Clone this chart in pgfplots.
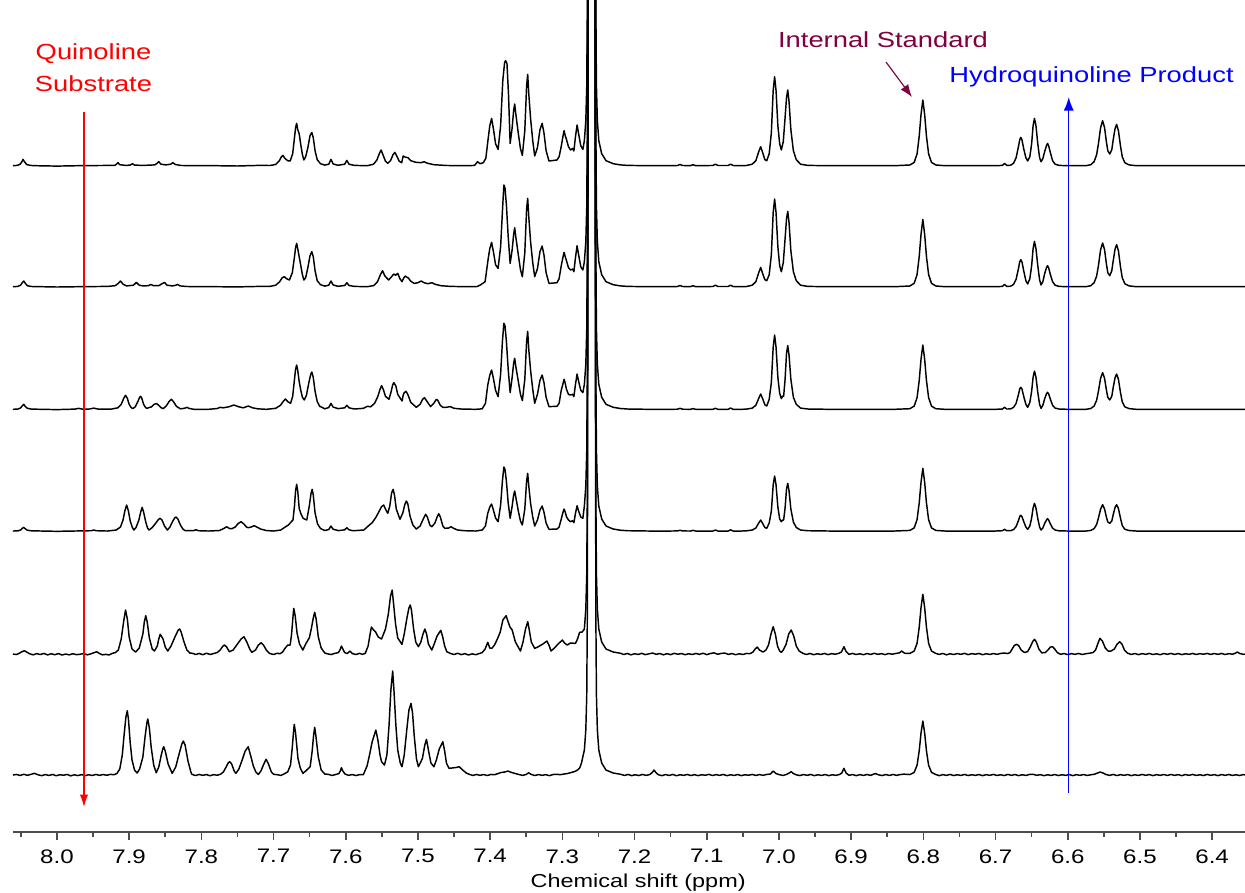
\documentclass[border=0pt]{standalone}
\usepackage{fontspec}
\setmainfont{Liberation Sans}
\usepackage{pgfplots}
\pgfplotsset{compat=1.18}
\usetikzlibrary{arrows.meta}
\definecolor{ismaroon}{RGB}{128,0,64}
\definecolor{annred}{RGB}{255,0,0}
\definecolor{annblue}{RGB}{0,0,255}
\begin{document}
\begin{tikzpicture}
\begin{axis}[
  scale only axis, width=591.36pt, height=399.36pt,
  xmin=6.3545, xmax=8.061, x dir=reverse,
  ymin=0, ymax=832,
  axis x line*=bottom, axis y line=none,
  xtick={6.4,6.5,6.6,6.7,6.8,6.9,7.0,7.1,7.2,7.3,7.4,7.5,7.6,7.7,7.8,7.9,8.0},
  minor xtick={6.45,6.55,6.65,6.75,6.85,6.95,7.05,7.15,7.25,7.35,7.45,7.55,7.65,7.75,7.85,7.95,8.05},
  tick align=outside,
  major tick length=3.84pt, minor tick length=2.4pt,
  tick style={black!70, line width=0.8pt},
  axis line style={black!70, line width=0.9pt},
  /pgf/number format/fixed, /pgf/number format/fixed zerofill,
  /pgf/number format/precision=1, /pgf/number format/assume math mode=true,
  xticklabel style={font=\fontsize{9.4}{11}\selectfont, xscale=1.23, yshift=-1pt},
  clip=true, no markers,
  every axis plot/.append style={black, line width=0.7pt, line join=round},
]
% ---------------- Trace 1 (top) ----------------
\addplot[y filter/.expression={y+666.3}] coordinates {
(8.061,0)(8.055,0.3)(8.051,1.5)(8.0485,4)(8.047,6.3)(8.045,4)(8.042,1.2)(8.037,0.3)(8.03,0)(8.00,-0.4)(7.97,0)(7.94,0.2)(7.92,0.3)(7.918,1.2)(7.9155,3)(7.913,1)(7.905,0.3)(7.8985,0.6)(7.8955,2)(7.8925,0.6)(7.88,0.3)(7.8645,0.8)(7.862,2)(7.859,4)(7.856,1.5)(7.849,0.8)(7.8425,1.5)(7.8395,3)(7.836,1.2)(7.828,0.2)(7.80,0)(7.78,0)(7.75,-0.3)(7.72,0.3)(7.705,0.2)
(7.697,1.2)(7.692,5)(7.689,9)(7.687,10.3)(7.6845,7.5)(7.6805,5)(7.677,4.7)(7.6735,12)(7.671,28)(7.6695,38)(7.668,42.3)(7.6665,36)(7.6645,32)(7.6625,22)(7.66,11)(7.658,5.7)(7.6555,9)(7.6525,18)(7.6495,30)(7.647,33.3)(7.645,28)(7.6425,15)(7.6395,6)(7.635,2)(7.629,0.6)(7.6235,1.5)(7.6205,6.3)(7.6175,1.8)(7.611,0.4)(7.6015,1.5)(7.5985,5.3)(7.5955,1.5)(7.588,0.3)(7.57,0)
(7.5615,1.5)(7.557,5.5)(7.5535,12)(7.551,15.7)(7.5485,11)(7.545,4.5)(7.5418,2.3)(7.538,5)(7.5345,11)(7.532,13.3)(7.5295,10)(7.526,4.5)(7.5225,3)(7.5205,9.7)(7.5175,8.5)(7.5137,8)(7.510,5)(7.5035,3.5)(7.496,3)(7.4915,4)(7.487,2.5)(7.478,1)(7.46,0.2)(7.43,0)(7.4215,0.3)(7.4175,4)(7.414,2)(7.4095,3)
(7.406,7.3)(7.4027,27.3)(7.4005,40)(7.398,47.3)(7.3955,37)(7.3925,22)(7.389,16.3)(7.3855,40)(7.3825,85)(7.380,103)(7.3787,105)(7.3767,102.3)(7.3745,70)(7.3723,22.3)(7.3695,38)(7.3675,55)(7.366,61.7)(7.3645,52)(7.361,32.3)(7.358,17)(7.3554,10.3)(7.352,35)(7.3495,80)(7.348,91.3)(7.3465,72)(7.344,47.3)(7.341,25)(7.3383,9.7)(7.3345,18)(7.331,36)(7.328,42.3)(7.3255,33)(7.3225,15)(7.3185,4.7)(7.3074,5.7)(7.3045,9)(7.3016,19)(7.299,30)(7.2976,35)(7.296,30)(7.2943,26.3)(7.2915,19)(7.2886,15.7)(7.2857,17.3)(7.284,14.7)(7.282,28)(7.2796,40.7)(7.2775,32)(7.2745,20)(7.2716,16.3)
(7.2695,25)(7.2675,45)(7.2662,80)(7.2655,150)(7.2650,300)(7.2644,600)(7.2638,1200)(7.2552,1200)(7.2546,600)(7.2540,300)(7.2535,150)(7.2528,80)(7.2515,45)(7.2495,25)(7.2455,12)(7.2395,5)(7.2295,2)(7.2195,0.8)
(7.2095,0.3)(7.18,0)(7.15,0)(7.1405,0.2)(7.137,1.2)(7.1335,0.2)(7.1225,0.1)(7.119,1)(7.1155,0.1)(7.0915,0.2)(7.088,1.5)(7.0845,0.2)(7.0705,0.2)(7.067,1.5)(7.0635,0.2)(7.052,0)
(7.045,0.2)(7.037,1.5)(7.032,5)(7.028,14)(7.0253,19)(7.0225,13)(7.0195,6)(7.0169,5)(7.0135,12)(7.0105,33)(7.008,75)(7.006,89)(7.004,75)(7.0015,40)(6.999,22)(6.9967,15.7)(6.994,24)(6.9915,48)(6.9895,68)(6.9878,75.7)(6.986,64)(6.9835,36)(6.980,15)(6.976,6)(6.970,1.5)(6.960,0.3)(6.93,0)(6.88,0)(6.84,0)
(6.8187,0.7)(6.8127,3.3)(6.8087,11.8)(6.8057,29.6)(6.8032,51.2)(6.8007,65.7)(6.7982,51.2)(6.7957,29.6)(6.7927,11.8)(6.7887,3.3)(6.7827,0.7)(6.77,0)(6.72,0)
(6.700,0)(6.6905,0.3)(6.6875,2.3)(6.6845,0.3)(6.679,0.5)(6.675,2.5)(6.6715,8)(6.668,20)(6.6665,26)(6.665,28.3)(6.6635,26)(6.661,17)(6.658,8)(6.6555,4.7)(6.6525,9)(6.650,22)(6.648,40)(6.6461,47.3)(6.644,40)(6.6415,22)(6.639,8)(6.637,4)(6.6345,7)(6.632,14)(6.6295,20)(6.628,22.3)(6.6265,20)(6.624,13)(6.621,5)(6.6175,1.5)(6.612,0.3)(6.600,0)(6.59,0)
(6.575,0)(6.568,1)(6.5635,4)(6.560,11)(6.5575,22)(6.5545,38)(6.5517,45)(6.549,38)(6.5465,24)(6.5445,15)(6.5418,11.7)(6.539,16)(6.537,26)(6.5345,37)(6.5323,41.3)(6.5298,35)(6.527,20)(6.5245,9)(6.521,3)(6.515,0.8)(6.505,0)(6.48,0)(6.44,0)(6.40,0)(6.3545,0)
};
% ---------------- Trace 2 ----------------
\addplot[y filter/.expression={y+545.3}] coordinates {
(8.061,0)(8.054,0.3)(8.0505,1.5)(8.048,4)(8.046,5.7)(8.044,3.5)(8.041,1)(8.035,0.2)(8.00,-0.3)(7.97,0)(7.93,0.3)(7.9195,1)(7.9155,3)(7.912,5.7)(7.9085,2.5)(7.9035,0.8)(7.894,1.5)(7.890,4.3)(7.886,1.5)(7.8805,0.8)(7.8735,1)(7.870,2.3)(7.8665,1)(7.8585,1.2)(7.8545,3)(7.851,4.3)(7.8475,1.5)(7.8405,0.8)(7.8365,1.2)(7.833,2.3)(7.8295,0.8)(7.82,0.2)(7.78,0)(7.75,-0.2)(7.72,0.3)(7.705,0.3)
(7.697,1.5)(7.6915,5)(7.688,9)(7.685,10)(7.682,8)(7.678,6.7)(7.674,14)(7.671,30)(7.6695,39)(7.668,43.3)(7.6665,38)(7.6645,30)(7.6625,22)(7.660,12)(7.658,6.7)(7.6555,9)(7.6525,19)(7.6495,31)(7.647,35)(7.645,30)(7.6425,16)(7.6395,6)(7.635,2)(7.629,0.6)(7.6235,1.5)(7.6205,5.7)(7.6175,1.8)(7.611,0.4)(7.6015,1.2)(7.5985,4)(7.5955,1.2)(7.588,0.3)(7.57,0)
(7.561,1.2)(7.556,5)(7.552,12)(7.549,16)(7.546,11)(7.5407,6.7)(7.5365,10)(7.5335,12.7)(7.531,11.5)(7.528,13.3)(7.525,8)(7.5221,5)(7.5195,9)(7.5175,10.7)(7.5155,9.5)(7.5137,9)(7.510,5.5)(7.5051,3.3)(7.500,4)(7.4955,5.7)(7.4915,4)(7.4865,3)(7.4805,4)(7.4765,2.5)(7.468,1)(7.455,0.3)(7.43,0)(7.418,0.2)(7.413,2)
(7.407,5)(7.4027,28)(7.4005,38)(7.398,44.3)(7.3955,35)(7.3925,22)(7.389,18.3)(7.3855,40)(7.3825,82)(7.381,101.7)(7.3795,99)(7.3775,82)(7.375,50)(7.3723,23.3)(7.3695,37)(7.3675,52)(7.366,59)(7.3645,50)(7.361,32)(7.358,17)(7.3554,10)(7.352,34)(7.3495,78)(7.348,88.3)(7.3465,70)(7.344,45)(7.341,24)(7.3383,10)(7.3345,18)(7.331,35)(7.328,40.7)(7.3255,32)(7.3225,14)(7.3185,3.3)(7.3074,4)(7.3045,8)(7.3016,20.7)(7.299,30)(7.2976,34.3)(7.296,30)(7.2943,26)(7.2915,19)(7.2886,16.7)(7.2857,17.7)(7.284,15)(7.282,28)(7.2796,41)(7.2775,32)(7.2745,20)(7.2716,16.7)
(7.2695,25)(7.2675,45)(7.2662,80)(7.2655,150)(7.2650,300)(7.2644,600)(7.2638,1200)(7.2552,1200)(7.2546,600)(7.2540,300)(7.2535,150)(7.2528,80)(7.2515,45)(7.2495,25)(7.2455,12)(7.2395,5)(7.2295,2)(7.2195,0.8)
(7.2095,0.3)(7.18,0)(7.15,0)(7.1405,0.2)(7.137,1.2)(7.1335,0.2)(7.1225,0.1)(7.119,1)(7.1155,0.1)(7.0915,0.2)(7.088,1.5)(7.0845,0.2)(7.0705,0.2)(7.067,1.5)(7.0635,0.2)(7.052,0)
(7.045,0.2)(7.037,1.5)(7.032,5)(7.028,14)(7.0253,19.3)(7.0225,13)(7.0195,7)(7.0169,6)(7.0135,12)(7.0105,32)(7.008,74)(7.006,87.7)(7.004,74)(7.0015,40)(6.999,21)(6.9967,15)(6.994,24)(6.9915,48)(6.9895,68)(6.9878,75.3)(6.986,64)(6.9835,36)(6.980,15)(6.976,6)(6.970,1.5)(6.960,0.3)(6.93,0)(6.88,0)(6.84,0)
(6.8187,0.7)(6.8127,3.4)(6.8087,12.1)(6.8057,30.3)(6.8032,52.5)(6.8007,67.3)(6.7982,52.5)(6.7957,30.3)(6.7927,12.1)(6.7887,3.4)(6.7827,0.7)(6.77,0)(6.72,0)
(6.700,0)(6.6905,0.3)(6.6875,2.3)(6.6845,0.3)(6.679,0.5)(6.675,2.3)(6.6715,7.5)(6.668,19)(6.6665,25)(6.665,27)(6.6635,25)(6.661,16)(6.658,6)(6.6555,2.7)(6.6525,8)(6.650,21)(6.648,38)(6.6461,45.3)(6.644,38)(6.6415,21)(6.639,7)(6.637,1.7)(6.6345,5)(6.632,13)(6.6295,19)(6.628,21)(6.6265,19)(6.624,12)(6.621,5)(6.6175,1.5)(6.612,0.3)(6.600,0)(6.59,0)
(6.575,0)(6.568,1)(6.5635,4)(6.560,10.5)(6.5575,21)(6.5545,37)(6.5517,43.7)(6.549,37)(6.5465,23)(6.5445,14)(6.5418,11)(6.539,16)(6.537,26)(6.5345,37.5)(6.5323,42)(6.5298,36)(6.527,20)(6.5245,9)(6.521,3)(6.515,0.8)(6.505,0)(6.48,0)(6.44,0)(6.40,0)(6.3545,0)
};
% ---------------- Trace 3 ----------------
\addplot[y filter/.expression={y+422.7}] coordinates {
(8.061,0)(8.054,0.3)(8.0505,1.3)(8.048,3.5)(8.046,5)(8.044,3)(8.041,1)(8.035,0.2)(8.00,-0.3)(7.975,0.2)(7.97,1)(7.965,0.2)(7.955,0.3)(7.949,1.2)(7.943,0.2)(7.925,0.2)
(7.9155,1.5)(7.911,5)(7.9075,11)(7.905,14)(7.9025,11)(7.9,5)(7.8975,2)(7.895,0.7)(7.8915,2.5)(7.8875,8.5)(7.8855,12)(7.884,13)(7.8825,11)(7.880,5)(7.8775,2)(7.8755,1)(7.869,2.5)(7.8655,5)(7.862,5.7)(7.859,4)(7.8555,1.5)(7.8527,0.7)(7.8485,3.5)(7.8445,8)(7.8415,10)(7.8385,7.5)(7.8345,3)(7.829,0.5)(7.8235,1)(7.820,2)(7.8165,0.8)(7.81,0)(7.79,0)(7.778,0.8)(7.774,2)(7.770,1.5)(7.762,2.5)(7.755,4.3)(7.748,2.5)(7.742,1.5)(7.735,3.3)(7.729,1.5)(7.722,0.5)(7.71,0)
(7.697,1)(7.6905,4)(7.6865,8)(7.6835,10.3)(7.680,7.5)(7.6764,6)(7.6735,13)(7.671,30)(7.6695,40)(7.668,44.3)(7.6665,39)(7.6645,27.7)(7.662,18)(7.660,12)(7.6575,9.3)(7.6545,14)(7.651,27)(7.6485,35)(7.647,37.3)(7.645,32)(7.6425,18)(7.6395,7.7)(7.636,3)(7.629,0.5)(7.6235,1.8)(7.6205,6)(7.6175,2.2)(7.6105,0.7)(7.6015,1.5)(7.5985,4)(7.5955,1.5)(7.588,0.3)
(7.5755,1)(7.570,3)(7.5655,2.5)(7.560,6)(7.5555,13)(7.5525,20)(7.5504,23.7)(7.548,20)(7.545,13)(7.5401,10)(7.537,18)(7.535,24.5)(7.5335,26.7)(7.5306,23.3)(7.528,15)(7.522,8.3)(7.5205,14)(7.519,16.7)(7.5165,18)(7.5135,14)(7.510,7)(7.5023,2)(7.497,5)(7.4935,10)(7.491,11.7)(7.4885,9)(7.4825,2.7)(7.478,6)(7.4755,9)(7.474,10)(7.4725,9)(7.469,4)(7.4655,2)(7.461,2)(7.4553,2.7)(7.450,1)(7.44,0.3)(7.42,0)
(7.411,0.5)(7.4065,6)(7.4033,24.3)(7.4005,34)(7.398,39.3)(7.3955,31)(7.3925,19)(7.389,12.7)(7.3855,35)(7.383,68)(7.381,86)(7.3795,84)(7.3775,68)(7.375,40)(7.3723,16.7)(7.3695,32)(7.3675,46)(7.366,51)(7.3645,43)(7.361,28)(7.358,15)(7.3554,8.7)(7.352,30)(7.3495,68)(7.348,78)(7.3465,60)(7.344,39)(7.341,20)(7.3383,6)(7.3345,15)(7.331,29)(7.328,34.3)(7.3255,27)(7.3225,12)(7.3185,2.7)(7.3074,3)(7.3045,6)(7.3016,18.7)(7.299,26)(7.2976,30)(7.296,26)(7.2943,20)(7.2915,15)(7.2886,14.3)(7.2857,15)(7.284,12.7)(7.282,24)(7.2796,35.3)(7.2775,28)(7.2745,19)(7.2716,16.7)
(7.2695,25)(7.2675,45)(7.2662,80)(7.2655,150)(7.2650,300)(7.2644,600)(7.2638,1200)(7.2552,1200)(7.2546,600)(7.2540,300)(7.2535,150)(7.2528,80)(7.2515,45)(7.2495,25)(7.2455,12)(7.2395,5)(7.2295,2)(7.2195,0.8)
(7.2095,0.3)(7.18,0)(7.15,0)(7.1405,0.1)(7.137,1)(7.1335,0.1)(7.1225,0)(7.119,0.7)(7.1155,0)(7.0915,0)(7.088,1)(7.0845,0)(7.0705,0)(7.067,1.3)(7.0635,0)(7.052,0)
(7.045,0.2)(7.037,1.2)(7.032,4)(7.028,11)(7.0253,15.3)(7.0225,10.5)(7.0195,4.5)(7.0169,3.3)(7.0135,10)(7.0105,27)(7.008,62)(7.006,74.3)(7.004,62)(7.0015,32)(6.999,16)(6.9967,10.7)(6.995,13.3)(6.9935,13)(6.9915,30)(6.9895,56)(6.9878,63.7)(6.986,54)(6.9835,30)(6.980,12)(6.976,5)(6.970,1.2)(6.960,0.3)(6.93,0)(6.88,0)(6.84,0)
(6.8187,0.6)(6.8127,3.2)(6.8087,11.6)(6.8057,28.9)(6.8032,50.2)(6.8007,64.3)(6.7982,50.2)(6.7957,28.9)(6.7927,11.6)(6.7887,3.2)(6.7827,0.6)(6.77,0)(6.72,0)
(6.700,0)(6.6905,0.3)(6.6875,2)(6.6845,0.3)(6.679,0.4)(6.675,2)(6.6715,6)(6.668,15.5)(6.6665,20.5)(6.665,22)(6.6635,20.5)(6.661,13)(6.658,5)(6.6555,2)(6.6525,7)(6.650,18)(6.648,32)(6.6461,38.3)(6.644,32)(6.6415,17)(6.639,5)(6.637,1)(6.6345,4)(6.632,10.5)(6.6295,15.5)(6.628,17)(6.6265,15.5)(6.624,10)(6.621,4)(6.6175,1.2)(6.612,0.3)(6.600,0)(6.59,0)
(6.575,0)(6.568,0.8)(6.5635,3.3)(6.560,9)(6.5575,18)(6.5545,31)(6.5517,36.7)(6.549,31)(6.5465,19.5)(6.5445,12)(6.5418,9.3)(6.539,13)(6.537,22)(6.5345,31.5)(6.5323,35.3)(6.5298,30)(6.527,17)(6.5245,7.5)(6.521,2.5)(6.515,0.7)(6.505,0)(6.48,0)(6.44,0)(6.40,0)(6.3545,0)
};
% ---------------- Trace 4 ----------------
\addplot[y filter/.expression={y+301}] coordinates {
(8.061,0)(8.054,0.2)(8.0505,1)(8.048,2.7)(8.046,3.7)(8.044,2.3)(8.041,0.8)(8.035,0.2)(8.00,-0.3)(7.96,0.2)(7.9525,0.3)(7.949,1)(7.9455,0.3)(7.93,0)
(7.918,1)(7.912,4)(7.9085,11)(7.906,20)(7.9035,26)(7.901,20)(7.8985,10)(7.8955,3.5)(7.8935,1)(7.8905,3.5)(7.8865,11)(7.884,19)(7.882,23.7)(7.880,19)(7.877,9)(7.8745,3)(7.8725,1)(7.868,3.5)(7.8625,8.5)(7.8595,11.5)(7.857,12.7)(7.8545,11)(7.851,5)(7.8471,1)(7.8435,4)(7.8395,10)(7.837,13)(7.835,14)(7.8325,12)(7.829,6)(7.8255,2)(7.8225,0.3)(7.811,0.3)(7.8076,1.3)(7.804,0.3)(7.79,0)
(7.775,0.5)(7.769,2.5)(7.765,4.3)(7.761,2.5)(7.7578,2.3)(7.753,4)(7.749,7.5)(7.745,9.3)(7.741,7)(7.7375,4)(7.7351,3.3)(7.731,4)(7.727,5.3)(7.723,4)(7.718,2)(7.71,0.5)(7.70,0)
(7.690,1)(7.6832,4.3)(7.6795,6)(7.6745,10)(7.6731,11)(7.671,25)(7.6695,40)(7.668,46.7)(7.6665,40)(7.6645,22.7)(7.662,17)(7.659,12.7)(7.654,11)(7.6505,25)(7.648,38)(7.6465,41.7)(7.645,36)(7.6425,18)(7.639,7)(7.635,2.5)(7.629,0.5)(7.6235,1.5)(7.6205,5)(7.6175,1.8)(7.610,0.4)(7.6015,1.2)(7.5985,3.3)(7.5955,1.2)(7.590,0.3)
(7.575,1)(7.5673,6)(7.5634,8.3)(7.558,14)(7.5504,24.3)(7.5475,26)(7.545,22)(7.5418,17.7)(7.539,25)(7.5365,38)(7.5344,41.7)(7.5325,36)(7.530,22)(7.5249,11.7)(7.521,18)(7.518,27)(7.516,30)(7.514,27)(7.511,15)(7.507,6)(7.5023,2)(7.497,5)(7.492,13)(7.4893,16.7)(7.487,14)(7.4835,6)(7.4808,4.3)(7.4765,8)(7.4735,14)(7.4712,17.3)(7.469,14)(7.4655,5)(7.4627,2.7)(7.4575,3)(7.4542,4.3)(7.450,2.5)(7.445,1)(7.435,0.3)(7.42,0)
(7.411,1)(7.4065,5)(7.4033,17.7)(7.4005,24)(7.398,27)(7.3955,21)(7.3925,13)(7.389,9.3)(7.3855,26)(7.383,50)(7.381,64)(7.3795,62)(7.3775,50)(7.375,28)(7.3723,12.7)(7.3695,25)(7.3675,36)(7.366,40)(7.3645,34)(7.361,20)(7.358,10)(7.3554,6)(7.352,22)(7.3495,50)(7.348,57.7)(7.3465,45)(7.344,27.7)(7.341,14)(7.3383,5)(7.3345,11)(7.331,21)(7.328,25)(7.3255,19)(7.3225,8)(7.3185,1.7)(7.3074,2)(7.3045,4)(7.3016,11.7)(7.299,19)(7.2976,22)(7.296,19)(7.2943,14.3)(7.2915,11)(7.2886,9.3)(7.2857,10.3)(7.284,8.3)(7.282,17)(7.2796,25.3)(7.2775,20)(7.2745,14)(7.2716,12.7)
(7.2695,25)(7.2675,45)(7.2662,80)(7.2655,150)(7.2650,300)(7.2644,600)(7.2638,1200)(7.2552,1200)(7.2546,600)(7.2540,300)(7.2535,150)(7.2528,80)(7.2515,45)(7.2495,25)(7.2455,12)(7.2395,5)(7.2295,2)(7.2195,0.8)
(7.2095,0.3)(7.18,0)(7.15,0)(7.1405,0.1)(7.137,0.8)(7.1335,0.1)(7.1225,0)(7.119,0.7)(7.1155,0)(7.0915,0)(7.088,1)(7.0845,0)(7.0705,0)(7.067,1.2)(7.0635,0)(7.052,0)
(7.045,0.2)(7.037,1)(7.032,3)(7.028,8)(7.0253,11)(7.0225,7.5)(7.0195,3.5)(7.0169,2.7)(7.0135,8)(7.0105,20)(7.008,46)(7.006,55)(7.004,46)(7.0015,24)(6.999,12)(6.9967,9.3)(6.995,11)(6.9935,11)(6.9915,23)(6.9895,42)(6.9878,47.7)(6.986,40)(6.9835,22)(6.980,9)(6.976,3.5)(6.970,1)(6.960,0.3)(6.93,0)(6.88,0)(6.84,0)
(6.8187,0.6)(6.8127,3.1)(6.8087,11.3)(6.8057,28.2)(6.8032,48.9)(6.8007,62.7)(6.7982,48.9)(6.7957,28.2)(6.7927,11.3)(6.7887,3.1)(6.7827,0.6)(6.77,0)(6.72,0)
(6.700,0)(6.6905,0.3)(6.6875,1.7)(6.6845,0.3)(6.679,0.4)(6.675,1.5)(6.6715,4.5)(6.668,11)(6.6665,14.5)(6.665,15.7)(6.6635,14.5)(6.661,9.5)(6.658,4)(6.6555,1.7)(6.6525,5)(6.650,13)(6.648,23)(6.6461,27.7)(6.644,23)(6.6415,12.5)(6.639,4)(6.637,1)(6.6345,3)(6.632,7.5)(6.6295,11)(6.628,12.3)(6.6265,11)(6.624,7)(6.621,3)(6.6175,1)(6.612,0.2)(6.600,0)(6.59,0)
(6.575,0)(6.568,0.6)(6.5635,2.4)(6.560,6.5)(6.5575,13)(6.5545,22)(6.5517,26.3)(6.549,22)(6.5465,14)(6.5445,9)(6.5418,7.7)(6.539,10)(6.537,16.5)(6.5345,23.5)(6.5323,26.3)(6.5298,22.5)(6.527,13)(6.5245,5.5)(6.521,1.8)(6.515,0.5)(6.505,0)(6.48,0)(6.44,0)(6.40,0)(6.3545,0)
};
% ---------------- Trace 5 ----------------
\addplot[y filter/.expression={y+178}] coordinates {
(8.061,0)(8.056,-0.5)(8.052,0.8)(8.048,2.5)(8.045,3.3)(8.042,2)(8.038,0.3)(8.033,-0.8)(8.028,0.4)(8.023,-0.5)(8.018,0.6)(8.013,-0.9)(8.008,0.3)(8.003,-0.7)(7.998,0.5)(7.993,-1)(7.988,0)(7.983,-0.8)(7.978,0.3)(7.973,-0.6)(7.968,-0.2)(7.963,0.5)(7.958,-0.8)(7.953,0.2)(7.948,1.5)(7.945,2.3)(7.941,0.5)(7.937,-0.8)(7.932,-0.3)(7.928,-1)(7.924,0.5)(7.919,1.5)
(7.915,4)(7.911,15)(7.9075,33)(7.905,44)(7.9025,35)(7.900,17)(7.896,5)(7.891,2)(7.886,6)(7.881,20)(7.879,32)(7.877,38.3)(7.875,32)(7.872,16)(7.868,5)(7.865,3)(7.861,8)(7.859,15)(7.857,19.7)(7.8555,18)(7.853,15)(7.850,7)(7.8465,3)(7.842,8)(7.836,18)(7.832,24)(7.830,25)(7.828,22)(7.824,12)(7.820,4)(7.816,1)(7.812,0.7)(7.808,-0.5)(7.803,0.6)(7.798,-0.7)(7.793,0.8)(7.788,-0.4)(7.783,0.5)(7.778,1.5)
(7.774,4)(7.770,8)(7.768,9)(7.765,7)(7.7612,2.3)(7.756,4)(7.750,10)(7.745,15)(7.741,17.3)(7.737,12)(7.733,5)(7.7301,1.7)(7.725,4)(7.721,9)(7.7171,11.3)(7.714,9)(7.710,4)(7.7058,0.7)(7.700,-0.5)(7.695,0.8)(7.691,0.3)
(7.6875,2)(7.6838,6)(7.6803,9)(7.677,9)(7.675,20)(7.673,38)(7.672,45.7)(7.670,38)(7.6674,20.7)(7.664,10)(7.6594,4)(7.6555,10)(7.6504,16.3)(7.6475,26)(7.645,36)(7.643,41.7)(7.641,35)(7.638,17)(7.634,6)(7.629,1)(7.624,0)(7.620,-0.5)(7.615,0.7)(7.610,1.5)(7.6075,5)(7.606,8)(7.604,5)(7.6015,1.5)(7.598,0.5)(7.594,3)(7.591,0.5)(7.586,-0.5)(7.581,0.7)(7.577,-0.3)(7.573,0.7)
(7.569,8)(7.5665,19)(7.5645,27)(7.5615,24)(7.5588,22.3)(7.555,17)(7.5504,15)(7.545,25)(7.541,40)(7.538,58)(7.5357,64)(7.534,52)(7.531,30)(7.528,16)(7.5221,9.7)(7.519,20)(7.515,37)(7.5125,46)(7.5107,49)(7.509,44)(7.506,25)(7.503,12)(7.4994,7.3)(7.496,12)(7.493,20)(7.4904,25)(7.488,20)(7.4855,10)(7.4808,4)(7.4775,10)(7.4735,18)(7.4684,23.7)(7.466,18)(7.463,8)(7.46,2.3)(7.455,0.6)(7.450,-0.5)(7.445,0.8)(7.440,-0.6)(7.435,0.4)(7.430,-1)(7.425,0.2)(7.420,-0.7)(7.415,0.5)(7.411,1.5)
(7.407,5)(7.4033,11.7)(7.4005,6)(7.3977,5.7)(7.394,9)(7.390,15)(7.386,22)(7.3824,34)(7.3779,38.3)(7.375,32)(7.3725,27)(7.3695,24)(7.365,12)(7.358,3)(7.3545,12)(7.351,25)(7.3479,32.3)(7.346,25)(7.343,12)(7.3383,5.7)(7.334,7)(7.327,10)(7.3214,13)(7.318,8)(7.3157,3)(7.311,6)(7.306,10)(7.2999,14)(7.297,11)(7.2932,9)(7.289,11)(7.2818,10.7)(7.279,15)(7.2761,21.7)(7.2725,22)
(7.2695,25)(7.2675,45)(7.2662,80)(7.2655,150)(7.2650,300)(7.2644,600)(7.2638,1200)(7.2552,1200)(7.2546,600)(7.2540,300)(7.2535,150)(7.2528,80)(7.2515,45)(7.2495,25)(7.2455,12)(7.2395,5)(7.2295,2)(7.2195,0.8)
(7.215,-0.5)(7.210,0.6)(7.205,-0.8)(7.200,0.3)(7.195,-0.4)(7.190,0.7)(7.185,-0.6)(7.180,0.2)(7.175,1)(7.170,-0.3)(7.165,0.5)(7.160,-0.8)(7.155,0.4)(7.150,-0.6)(7.145,0.7)(7.140,-0.2)(7.135,0.5)(7.130,-0.7)(7.125,0.3)(7.120,-0.5)(7.115,0.6)(7.110,-0.3)(7.105,0.8)(7.100,-0.6)(7.095,0.5)(7.090,1.2)(7.085,-0.2)(7.080,0.6)(7.075,1)(7.070,-0.4)(7.065,0.5)(7.060,-0.7)(7.055,0.3)(7.050,-0.5)(7.045,0.6)(7.040,0.4)
(7.036,2)(7.033,5)(7.030,7)(7.027,4)(7.022,2)(7.018,4)(7.0145,9)(7.011,20)(7.008,27.3)(7.005,20)(7.002,8)(6.999,3)(6.9967,1.7)(6.994,4)(6.990,10)(6.9865,20)(6.983,24)(6.9795,18)(6.976,8)(6.972,3)(6.967,0.8)(6.962,-0.5)(6.957,0.6)(6.952,-0.7)(6.947,0.3)(6.942,-0.4)(6.937,0.6)(6.932,-0.6)(6.927,0.4)(6.922,-0.2)(6.917,0.7)(6.9135,2)(6.910,7.3)(6.907,2.5)(6.903,-0.3)(6.898,0.6)(6.893,-0.5)(6.888,0.3)(6.883,-0.7)(6.878,0.5)(6.873,-0.4)(6.868,0.8)(6.863,-0.3)(6.858,0.4)(6.853,-0.6)(6.848,0.5)(6.843,-0.2)(6.838,0.6)(6.833,1.2)(6.830,3)(6.826,0.8)
(6.8187,0.6)(6.8127,3)(6.8087,10.7)(6.8057,26.9)(6.8032,46.6)(6.8007,59.7)(6.7982,46.6)(6.7957,26.9)(6.7927,10.7)(6.7887,3)(6.7827,0.6)
(6.778,-0.4)(6.773,0.6)(6.768,-0.8)(6.763,0.3)(6.758,-0.5)(6.753,0.5)(6.748,-0.3)(6.743,0.7)(6.738,-0.6)(6.733,0.4)(6.728,-0.2)(6.723,0.6)(6.718,-0.7)(6.713,0.3)(6.708,-0.4)(6.703,0.5)(6.698,-0.3)(6.693,0.6)(6.688,1)(6.683,0.5)
(6.680,1.5)(6.677,5)(6.674,8.5)(6.671,9.7)(6.668,8.5)(6.6645,4)(6.660,1.5)(6.6555,2.5)(6.652,7)(6.6485,12.5)(6.646,14.7)(6.6435,12)(6.640,5)(6.636,1.2)(6.631,1.5)(6.6275,4)(6.624,7)(6.621,7.3)(6.618,5)(6.6145,1.5)(6.610,-0.3)(6.605,0.5)(6.600,-0.6)(6.595,0.4)(6.590,-0.3)(6.585,0.6)(6.580,-0.5)(6.575,0.3)(6.570,0.8)(6.565,1.5)
(6.5615,4)(6.5585,10)(6.5555,15.7)(6.552,13)(6.548,6)(6.544,3)(6.540,3)(6.5355,5)(6.5315,10)(6.528,12.3)(6.525,10)(6.5215,4)(6.517,0.8)(6.512,-0.4)(6.507,0.5)(6.502,-0.6)(6.497,0.4)(6.492,-0.3)(6.487,0.6)(6.482,-0.5)(6.477,0.3)(6.472,-0.7)(6.467,0.5)(6.462,-0.3)(6.457,0.6)(6.452,-0.4)(6.447,0.5)(6.442,-0.6)(6.437,0.3)(6.432,-0.3)(6.427,0.6)(6.422,-0.5)(6.417,0.4)(6.412,-0.2)(6.407,0.6)(6.402,-0.4)(6.397,0.5)(6.392,-0.3)(6.387,0.6)(6.382,-0.5)(6.377,0.4)(6.372,-0.2)(6.368,0.8)(6.365,2)(6.362,0.6)(6.357,-0.3)(6.3545,0)
};
% ---------------- Trace 6 (bottom) ----------------
\addplot[y filter/.expression={y+57}] coordinates {
(8.061,0)(8.056,0.6)(8.051,-0.4)(8.046,0.8)(8.041,-0.3)(8.036,0.7)(8.031,1.7)(8.026,0.2)(8.021,-0.6)(8.016,0.5)(8.011,-0.4)(8.006,0.6)(8.001,-0.7)(7.996,0.3)(7.991,-0.2)(7.986,0.6)(7.981,-0.8)(7.976,0.2)(7.971,-0.5)(7.966,0.4)(7.961,-0.6)(7.956,0.3)(7.951,-0.4)(7.946,0.6)(7.941,-0.3)(7.936,0.5)(7.931,-0.2)(7.926,0.7)(7.921,0.3)
(7.917,1.5)(7.913,6)(7.9095,20)(7.907,40)(7.9045,58)(7.9026,64.3)(7.901,56)(7.8985,32)(7.896,15)(7.8925,5)(7.889,2)(7.8855,6)(7.881,18)(7.878,38)(7.8755,52)(7.8742,56)(7.872,47)(7.8695,28)(7.866,10)(7.8625,2.3)(7.859,8)(7.8555,20)(7.8535,26)(7.8522,28.3)(7.850,24)(7.846,11)(7.8404,1.7)(7.8355,8)(7.8305,22)(7.827,31)(7.825,34)(7.8225,30)(7.8185,14)(7.8145,3)(7.8132,0.7)(7.808,-0.5)(7.803,0.6)(7.798,-0.3)(7.793,0.5)(7.788,-0.7)(7.783,0.4)(7.778,-0.2)
(7.7735,0.8)(7.7695,3)(7.765,9)(7.7625,12.5)(7.7606,13.3)(7.758,11)(7.7545,4)(7.7522,1.7)(7.748,6)(7.7435,15)(7.7393,24)(7.7351,28.3)(7.7313,18.3)(7.728,9)(7.7245,3)(7.721,0.7)(7.7175,4)(7.7135,11)(7.7103,15.7)(7.707,11)(7.703,3)(7.6999,0.7)(7.695,0.4)(7.690,-0.4)
(7.6855,1)(7.6803,3.3)(7.6765,10)(7.674,28)(7.6725,42)(7.6713,50.7)(7.6695,42)(7.6662,16.7)(7.663,7)(7.6594,1.7)(7.6555,4)(7.6493,8.3)(7.6465,24)(7.6445,40)(7.643,47.7)(7.6415,40)(7.638,18)(7.634,5)(7.629,1)(7.624,0.7)(7.619,-0.4)(7.614,0.5)(7.6095,1.5)(7.6075,4)(7.606,7.3)(7.604,4)(7.601,1)(7.596,-0.3)(7.591,0.5)(7.586,-0.5)(7.581,0.4)(7.5757,0.3)
(7.5705,9)(7.5665,22)(7.5634,33.3)(7.5583,45)(7.5555,35)(7.5525,20)(7.5504,13.3)(7.5464,10)(7.543,20)(7.540,50)(7.5375,85)(7.535,104)(7.5335,88)(7.5306,50)(7.528,25)(7.5245,12)(7.5221,8.3)(7.519,20)(7.5155,45)(7.5125,65)(7.5096,71.7)(7.5075,62)(7.505,38)(7.502,16)(7.4994,8.3)(7.4955,14)(7.4938,16.7)(7.4905,30)(7.4882,35.7)(7.4842,20)(7.482,12)(7.4779,8.3)(7.4745,15)(7.4705,26)(7.4655,33.3)(7.463,24)(7.4605,12)(7.457,6.7)(7.4535,7)(7.4475,7.5)(7.4429,8.3)(7.438,5)(7.433,2)(7.4288,0.7)
(7.424,-0.4)(7.419,0.6)(7.414,-0.3)(7.409,0.5)(7.404,-0.5)(7.399,0.6)(7.394,0.3)(7.389,1.5)(7.385,2.5)(7.380,3)(7.3755,4)(7.370,2.5)(7.365,1.5)(7.360,0.5)(7.355,-0.3)(7.350,0.6)(7.3468,2.3)(7.343,0.6)(7.338,-0.5)(7.333,0.5)(7.328,-0.3)(7.323,0.4)(7.318,-0.6)(7.313,0.5)(7.308,0.8)(7.303,0.3)(7.298,1)(7.293,1.5)(7.288,2.5)(7.283,3.5)(7.279,5)(7.276,7)(7.2735,12)
(7.2695,25)(7.2675,45)(7.2662,80)(7.2655,150)(7.2650,300)(7.2644,600)(7.2638,1200)(7.2552,1200)(7.2546,600)(7.2540,300)(7.2535,150)(7.2528,80)(7.2515,45)(7.2495,25)(7.2455,12)(7.2395,5)(7.2295,2)(7.2195,0.8)
(7.214,-0.4)(7.209,0.6)(7.204,-0.6)(7.199,0.3)(7.194,-0.5)(7.189,0.6)(7.184,-0.3)(7.179,0.5)(7.1755,2.5)(7.173,5)(7.1705,2.5)(7.167,0.3)(7.162,-0.6)(7.157,0.5)(7.152,-0.4)(7.147,0.6)(7.142,-0.7)(7.137,0.3)(7.132,-0.3)(7.127,0.6)(7.122,-0.5)(7.117,0.4)(7.112,-0.6)(7.107,0.3)(7.102,-0.2)(7.097,0.7)(7.092,-0.5)(7.087,0.4)(7.082,-0.3)(7.077,0.6)(7.072,-0.6)(7.067,0.3)(7.062,-0.4)(7.057,0.5)(7.052,-0.6)(7.047,0.3)(7.042,-0.2)(7.037,0.6)(7.032,-0.4)(7.027,0.5)(7.022,-0.3)(7.017,0.6)
(7.012,1)(7.008,4)(7.004,1.5)(6.999,0.3)(6.994,-0.4)(6.989,0.8)(6.986,2)(6.983,3.3)(6.980,1.5)(6.976,0.2)(6.971,-0.5)(6.966,0.5)(6.961,-0.3)(6.956,0.6)(6.951,-0.6)(6.946,0.3)(6.941,-0.4)(6.936,0.5)(6.931,-0.6)(6.926,0.3)(6.921,-0.3)(6.916,0.6)(6.913,2)(6.910,6.7)(6.907,2)(6.903,-0.3)(6.898,0.5)(6.893,-0.6)(6.888,0.4)(6.883,-0.4)(6.878,0.5)(6.873,-0.3)(6.8666,1.5)(6.862,0.2)(6.857,-0.5)(6.852,0.5)(6.847,-0.4)(6.842,0.6)(6.837,-0.3)(6.832,0.5)(6.827,0.9)
(6.8187,0.5)(6.8127,2.7)(6.8087,9.7)(6.8057,24.3)(6.8032,42.1)(6.8007,54)(6.7982,42.1)(6.7957,24.3)(6.7927,9.7)(6.7887,2.7)(6.7827,0.5)
(6.778,-0.6)(6.773,0.4)(6.768,-0.3)(6.763,0.6)(6.758,-0.5)(6.753,0.3)(6.748,-0.4)(6.743,0.6)(6.738,-0.5)(6.733,0.3)(6.728,-0.3)(6.723,0.5)(6.718,-0.6)(6.713,0.4)(6.708,-0.3)(6.703,0.6)(6.698,-0.4)(6.693,0.3)(6.688,-0.5)(6.683,0.6)(6.678,-0.3)(6.673,0.5)(6.668,-0.6)(6.663,0.3)(6.658,-0.4)(6.653,0.6)(6.648,0.8)(6.643,-0.3)(6.638,0.4)(6.633,-0.6)(6.628,0.3)(6.623,-0.4)(6.618,0.5)(6.613,-0.5)(6.608,0.3)(6.603,-0.3)(6.598,0.5)(6.593,-0.6)(6.588,0.4)(6.583,-0.3)(6.578,0.5)(6.573,-0.4)(6.568,0.3)(6.563,0.8)(6.559,2)(6.555,3)(6.551,2)(6.547,0.5)
(6.542,-0.3)(6.537,0.6)(6.532,-0.5)(6.527,0.4)(6.522,-0.3)(6.517,0.5)(6.512,-0.6)(6.507,0.3)(6.502,-0.4)(6.497,0.6)(6.492,-0.3)(6.487,0.5)(6.482,-0.6)(6.477,0.4)(6.472,-0.3)(6.467,0.5)(6.462,-0.4)(6.457,0.6)(6.452,-0.3)(6.447,0.4)(6.442,-0.6)(6.437,0.5)(6.432,-0.3)(6.427,0.6)(6.422,-0.4)(6.417,0.3)(6.412,-0.5)(6.407,0.6)(6.402,-0.3)(6.397,0.4)(6.392,-0.6)(6.387,0.5)(6.382,-0.3)(6.377,0.6)(6.372,-0.4)(6.367,0.3)(6.362,-0.5)(6.357,0.5)(6.3545,0)
};
% named points for annotations and the page frame
\coordinate (bbSW) at (axis cs:8.0789,-60);
\coordinate (bbNE) at (axis cs:6.3545,832);
\coordinate (xl) at (axis cs:7.195,-51);
\coordinate (qtxt) at (axis cs:7.9494,764);
\coordinate (qa1) at (axis cs:7.9626,720);
\coordinate (qa2) at (axis cs:7.9626,25);
\coordinate (htxt) at (axis cs:6.567,755);
\coordinate (ha1) at (axis cs:6.5986,39);
\coordinate (ha2) at (axis cs:6.5986,735);
\coordinate (itxt) at (axis cs:6.8559,792);
\coordinate (ia1) at (axis cs:6.8518,770);
\coordinate (ia2) at (axis cs:6.8158,735);
\end{axis}
\node[font=\fontsize{9}{11}\selectfont, xscale=1.25, inner sep=0pt] at (xl) {Chemical shift (ppm)};
\node[font=\fontsize{10.5}{15.4}\selectfont, xscale=1.25, inner sep=0pt, align=center, text=annred] at (qtxt) {Quinoline\\Substrate};
\draw[annred, line width=0.65pt, -{Latex[length=6pt,width=4pt]}] (qa1) -- (qa2);
\node[font=\fontsize{10.5}{12}\selectfont, xscale=1.25, inner sep=0pt, text=annblue] at (htxt) {Hydroquinoline Product};
\draw[annblue, line width=0.65pt, -{Latex[length=6.5pt,width=4.8pt]}] (ha1) -- (ha2);
\node[font=\fontsize{10.5}{12}\selectfont, xscale=1.25, inner sep=0pt, text=ismaroon] at (itxt) {Internal Standard};
\draw[ismaroon, line width=0.55pt, -{Latex[length=6pt,width=4.5pt]}] (ia1) -- (ia2);
\pgfresetboundingbox
\useasboundingbox (bbSW) rectangle (bbNE);
\end{tikzpicture}
\end{document}
